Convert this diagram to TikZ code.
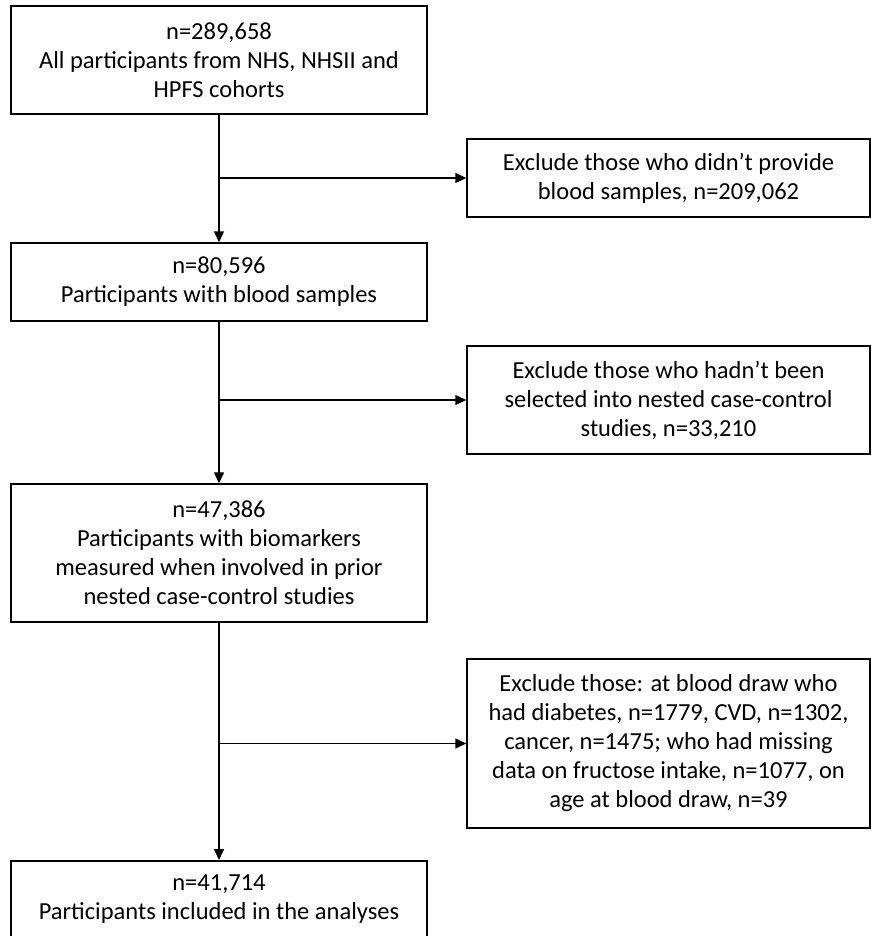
\documentclass[tikz,border=0pt]{standalone}
\usepackage{fontspec}
\setmainfont{Carlito}
\usetikzlibrary{arrows.meta}
\begin{document}
\begin{tikzpicture}[x=1pt,y=-1pt,
  box/.style={draw, line width=1.5pt, align=center, inner sep=0pt,
    font=\fontsize{24.5}{29}\selectfont},
  arr/.style={line width=1.5pt, -{Triangle[length=11pt,width=10pt]}}]
\useasboundingbox (0,0) rectangle (871,936);
\node[box, minimum width=416pt, minimum height=108pt] (b1) at (219,60)
  {n=289,658\\All participants from NHS, NHSII and\\HPFS cohorts};
\node[box, minimum width=403pt, minimum height=78pt] (e1) at (668.5,178)
  {Exclude those who didn't provide\\blood samples, n=209,062};
\node[box, minimum width=416pt, minimum height=78pt] (b2) at (219,282)
  {n=80,596\\Participants with blood samples};
\node[box, minimum width=403pt, minimum height=108pt] (e2) at (668.5,400)
  {Exclude those who hadn't been\\selected into nested case-control\\studies, n=33,210};
\node[box, minimum width=416pt, minimum height=138pt] (b3) at (219,553)
  {n=47,386\\Participants with biomarkers\\measured when involved in prior\\nested case-control studies};
\node[box, minimum width=403pt, minimum height=169pt] (e3) at (668.5,743.5)
  {Exclude those: at blood draw who\\had diabetes, n=1779, CVD, n=1302,\\cancer, n=1475; who had missing\\data on fructose intake, n=1077, on\\age at blood draw, n=39};
\node[box, minimum width=416pt, minimum height=76pt, anchor=north] (b4) at (219,860)
  {n=41,714\\Participants included in the analyses};
\draw[arr] (b1) -- (b2);
\draw[arr] (b2) -- (b3);
\draw[arr] (b3) -- (b4);
\coordinate (j1) at (b1.south |- e1.west);
\coordinate (j2) at (b2.south |- e2.west);
\coordinate (j3) at (b3.south |- e3.west);
\draw[arr] (j1) -- (e1.west);
\draw[arr] (j2) -- (e2.west);
\draw[arr] (j3) -- (e3.west);
\end{tikzpicture}
\end{document}
